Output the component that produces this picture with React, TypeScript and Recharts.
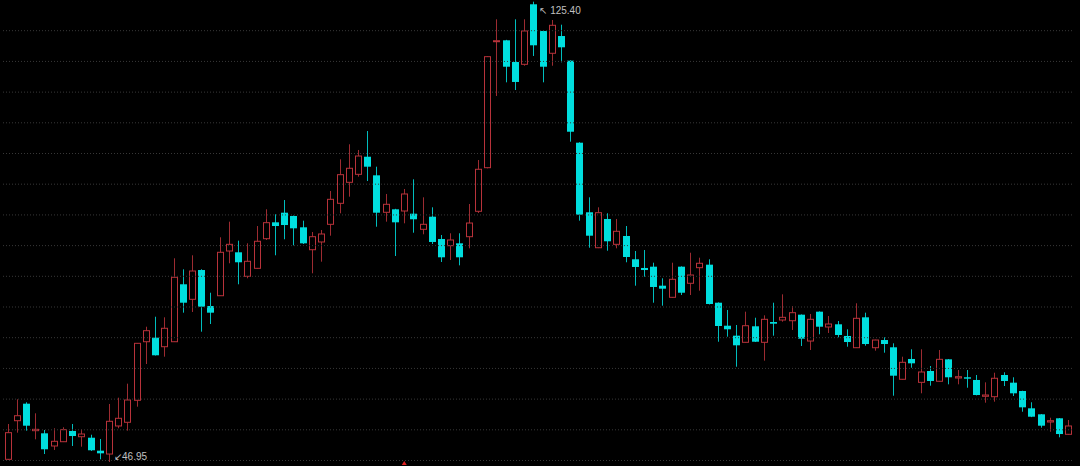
import React from 'react';
import { ComposedChart, Bar, XAxis, YAxis, ReferenceLine, ReferenceDot } from 'recharts';

// daily candles, oldest first
const candleOpen = [
  47.41, 53.99, 56.89, 52.29, 51.84, 49.68, 50.41, 52.24, 51.26, 51.09,
  48.88, 48.31, 53.09, 53.72, 57.47, 67.45, 68.14, 66.6, 67.45, 77.24,
  74.68, 79.67, 73.54, 75.29, 82.91, 82.69, 78.6, 79.96, 85.01, 87.8,
  89.44, 88.88, 86.95, 83.13, 84.45, 87.46, 91.04, 94.62, 95.98, 98.98,
  95.81, 89.51, 90.02, 89.73, 89.27, 86.61, 88.76, 84.96, 83.82, 84.22,
  85.35, 89.68, 97.11, 118.58, 118.82, 115.12, 114.73, 124.96, 120.41, 116.61,
  119.55, 115.35, 101.37, 89.51, 83.47, 88.37, 84.05, 85.47, 81.5, 80.02,
  80.24, 77.0, 75.02, 80.24, 77.41, 80.07, 80.58, 74.1, 70.18, 68.48,
  67.35, 70.08, 67.35, 70.81, 71.15, 71.03, 72.06, 67.57, 72.57, 69.96,
  70.42, 68.43, 66.43, 71.61, 66.43, 67.74, 66.5, 61.05, 64.51, 60.53,
  62.46, 60.71, 64.45, 61.27, 61.39, 60.93, 58.15, 58.08, 61.78, 60.47,
  59.05, 56.1, 55.08, 53.77, 54.4, 51.67,
];
const candleHigh = [
  53.43, 57.64, 57.13, 55.25, 52.41, 52.7, 52.87, 53.43, 52.52, 51.6,
  50.87, 56.84, 57.91, 60.3, 67.23, 70.01, 71.71, 71.61, 81.67, 79.79,
  82.18, 79.8, 75.8, 85.25, 87.91, 84.67, 84.22, 87.17, 90.02, 89.17,
  91.6, 88.95, 88.08, 86.15, 86.49, 93.14, 98.54, 101.1, 100.13, 103.36,
  97.28, 92.63, 90.1, 93.48, 95.13, 92.06, 90.36, 85.64, 85.93, 85.93,
  90.92, 98.42, 116.1, 122.4, 118.9, 122.4, 122.4, 125.4, 120.5, 122.28,
  121.48, 115.42, 101.45, 92.06, 90.36, 89.34, 88.37, 87.17, 82.91, 83.08,
  80.92, 78.26, 80.92, 80.3, 82.62, 81.77, 81.5, 74.15, 72.86, 70.3,
  72.57, 71.54, 71.95, 74.1, 75.53, 73.54, 72.1, 72.18, 72.62, 71.83,
  70.98, 69.57, 74.0, 72.4, 67.8, 68.2, 67.18, 64.9, 66.16, 66.16,
  63.31, 66.04, 64.5, 62.63, 62.63, 61.78, 60.53, 62.17, 62.24, 61.39,
  59.1, 57.13, 55.12, 54.5, 54.45, 54.11,
];
const candleLow = [
  47.29, 51.95, 52.29, 50.82, 48.31, 49.0, 50.35, 49.68, 49.56, 48.83,
  47.41, 46.95, 52.7, 52.29, 56.38, 63.65, 65.1, 64.9, 67.4, 72.4,
  72.52, 69.16, 70.47, 75.24, 80.82, 77.24, 78.26, 79.9, 84.79, 82.18,
  84.91, 83.88, 84.1, 79.11, 81.09, 85.52, 89.34, 92.17, 95.58, 94.84,
  87.05, 87.91, 82.06, 87.63, 86.03, 85.76, 84.1, 81.04, 81.38, 80.47,
  83.37, 89.39, 97.0, 109.33, 111.66, 110.35, 114.49, 116.15, 111.66, 114.49,
  115.07, 101.54, 88.08, 83.47, 83.4, 82.96, 83.37, 80.99, 77.0, 78.53,
  74.1, 73.59, 74.95, 75.41, 75.41, 76.15, 73.8, 67.45, 68.31, 63.19,
  67.3, 67.4, 64.22, 68.48, 70.86, 69.45, 66.72, 66.04, 68.72, 68.94,
  68.2, 66.6, 66.38, 66.77, 65.92, 65.58, 58.25, 61.0, 63.02, 58.66,
  59.96, 60.65, 60.19, 60.19, 59.61, 58.3, 57.06, 57.23, 59.9, 58.2,
  55.52, 54.6, 52.8, 52.12, 51.16, 51.6,
];
const candleClose = [
  51.95, 54.84, 53.14, 52.52, 49.12, 50.48, 52.46, 51.38, 51.72, 48.95,
  48.43, 53.89, 54.4, 57.52, 67.18, 69.33, 65.14, 69.74, 78.43, 74.1,
  79.5, 73.42, 72.4, 82.69, 84.05, 80.99, 81.16, 84.57, 87.74, 87.17,
  87.34, 86.78, 84.22, 85.35, 85.81, 91.72, 95.92, 97.01, 99.1, 97.28,
  89.44, 90.87, 87.8, 92.63, 88.32, 87.46, 84.45, 81.84, 84.79, 81.84,
  87.68, 96.84, 116.03, 118.75, 114.32, 111.72, 120.41, 117.97, 114.32, 121.38,
  117.63, 103.24, 89.1, 85.52, 89.44, 84.57, 86.27, 81.89, 80.19, 79.67,
  76.78, 76.49, 78.09, 75.8, 78.82, 80.82, 73.88, 70.13, 69.57, 66.84,
  70.18, 67.45, 71.27, 70.52, 71.61, 72.4, 67.97, 71.27, 70.01, 70.47,
  68.6, 67.4, 71.44, 67.06, 67.74, 67.06, 61.66, 63.94, 63.77, 62.29,
  60.76, 64.45, 61.39, 61.49, 61.15, 58.37, 58.37, 61.22, 60.76, 58.66,
  56.27, 54.67, 53.14, 53.99, 51.72, 53.09,
];

// dotted price lines
const gridPrices = [120.46, 115.22, 109.99, 104.76, 99.53, 94.3, 89.06, 83.83, 78.6, 73.37, 68.14, 62.9, 57.67, 52.44, 47.21];

const priceMin = 46.27;
const priceMax = 125.69;
const maxIdx = 57;
const minIdx = 11;
const markerIdx = 43;

const UP = '#b8323a';
const DOWN = '#00dede';

const rows = candleOpen.map((o, i) => ({
  idx: i,
  o,
  h: candleHigh[i],
  l: candleLow[i],
  c: candleClose[i],
  range: [candleLow[i], candleHigh[i]],
}));

const Candle = (props: any) => {
  const { x, y, width, height, payload } = props;
  if (!payload || height == null) return null;
  const { o, h, l, c } = payload;
  const top = Math.min(y, y + height);
  const span = Math.abs(height);
  const yOf = (v: number) => top + ((h - v) / (h - l || 1)) * span;
  const up = c >= o;
  const color = up ? UP : DOWN;
  const cx = Math.round(x + width / 2) + 0.5;
  const bTop = yOf(Math.max(o, c));
  const bBot = yOf(Math.min(o, c));
  const bh = Math.max(bBot - bTop, 1);
  return (
    <g>
      <line x1={cx} x2={cx} y1={top} y2={top + span} stroke={color} strokeWidth={1} strokeOpacity={0.85} />
      {up ? (
        <rect x={cx - 3} y={bTop} width={6} height={bh} fill="#000" stroke={color} strokeWidth={1} />
      ) : (
        <rect x={cx - 3.5} y={bTop} width={7} height={bh} fill={color} />
      )}
    </g>
  );
};

const App: React.FC = () => {
  return (
    <div style={{ position: 'absolute', left: 0, top: 0, width: 1080, height: 466, background: '#000' }}>
      <ComposedChart width={1080} height={466} data={rows} margin={{ top: 0, right: 7, left: 3, bottom: 0 }}>
        <XAxis dataKey="idx" type="category" hide />
        <YAxis type="number" domain={[priceMin, priceMax]} allowDataOverflow hide />
        {gridPrices.map((p) => (
          <ReferenceLine key={p} y={p} stroke="#383838" strokeDasharray="1 2" />
        ))}
        <Bar dataKey="range" barSize={7} shape={Candle} isAnimationActive={false} />
        <ReferenceDot
          x={maxIdx}
          y={candleHigh[maxIdx]}
          ifOverflow="visible"
          shape={(p: any) => (
            <text x={p.cx + 6} y={p.cy + 12} fill="#c0c0c0" fontSize={10} fontFamily="Liberation Sans, Arial, sans-serif">
              ↖ 125.40
            </text>
          )}
        />
        <ReferenceDot
          x={minIdx}
          y={candleLow[minIdx]}
          ifOverflow="visible"
          shape={(p: any) => (
            <text x={p.cx + 5} y={p.cy - 2} fill="#c0c0c0" fontSize={10} fontFamily="Liberation Sans, Arial, sans-serif">
              ↙46.95
            </text>
          )}
        />
        <ReferenceDot
          x={markerIdx}
          y={priceMin}
          ifOverflow="visible"
          shape={(p: any) => (
            <path d={`M${p.cx - 2.5},${p.cy - 1} L${p.cx + 2.5},${p.cy - 1} L${p.cx},${p.cy - 5} Z`} fill="#e02020" />
          )}
        />
      </ComposedChart>
    </div>
  );
};

export default App;
